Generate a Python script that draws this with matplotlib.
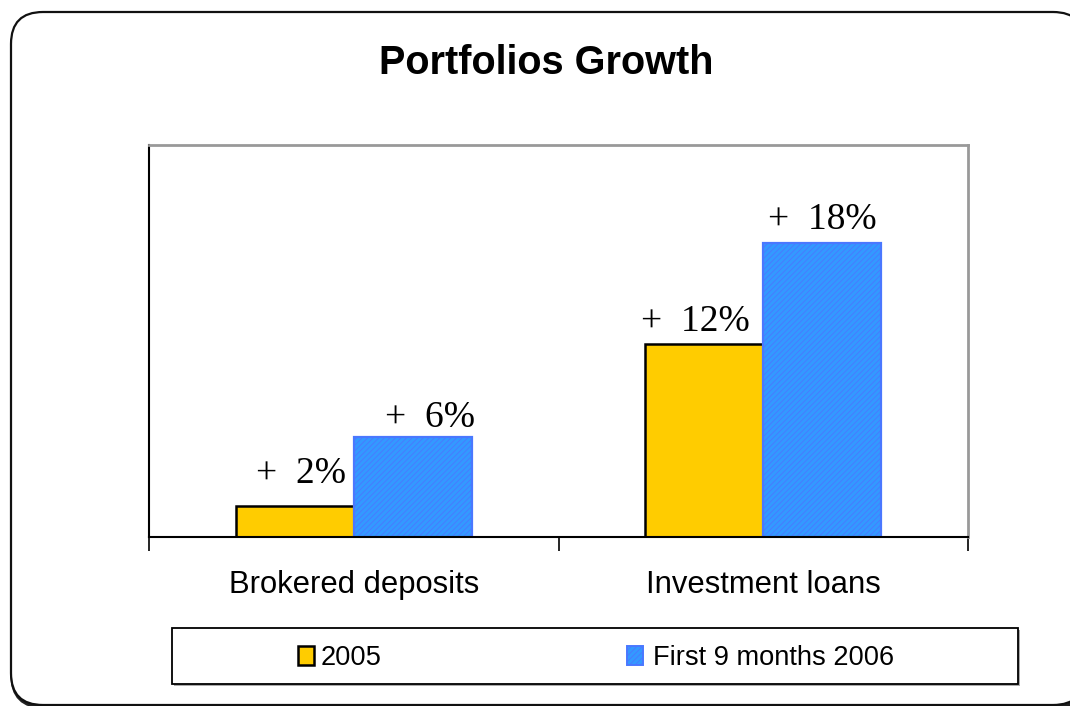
import matplotlib
matplotlib.use("Agg")
import matplotlib.pyplot as plt
from matplotlib.patches import FancyBboxPatch, Rectangle
from matplotlib.transforms import IdentityTransform, blended_transform_factory
import numpy as np

categories = ["Brokered deposits", "Investment loans"]
series_names = ["2005", "First 9 months 2006"]
values_2005 = [1.9, 11.8]
values_2006 = [6.1, 18.0]
labels_2005 = ["+  2%", "+  12%"]
labels_2006 = ["+  6%", "+  18%"]

W, H = 1070, 706
fig = plt.figure(figsize=(W / 100, H / 100), dpi=100)
fig.patch.set_facecolor("white")

SANS = ["Liberation Sans", "DejaVu Sans"]
SERIF = ["Liberation Serif", "DejaVu Serif"]
plt.rcParams["hatch.linewidth"] = 0.6

# rounded outer frame (pixel coordinates, origin bottom-left)
pix = IdentityTransform()
shadow = FancyBboxPatch((12, -1), 1074, 693, boxstyle="round,pad=0,rounding_size=32",
                        transform=pix, facecolor="none", edgecolor="#222222", linewidth=2.5,
                        zorder=-3)
fig.patches.append(shadow)
frame = FancyBboxPatch((11, 1), 1074, 693, boxstyle="round,pad=0,rounding_size=32",
                       transform=pix, facecolor="white", edgecolor="#111111", linewidth=1.6,
                       zorder=-2)
fig.patches.append(frame)

# plot area
L, R, T, B = 149, 968, 145, 537
ax = fig.add_axes([L / W, 1 - B / H, (R - L) / W, (B - T) / H])
ax.set_xlim(-0.5, 1.5)
ax.set_ylim(0, 24)

x = np.arange(len(categories))
bw = 0.2885
b1 = ax.bar(x - bw / 2, values_2005, bw, color="#ffcc00", edgecolor="black",
            linewidth=1.8, zorder=3, label=series_names[0])
plt.rcParams["hatch.color"] = "#2f6cff"
b2 = ax.bar(x + bw / 2, values_2006, bw, color="#3399ff", edgecolor="#4a78ff",
            linewidth=1.6, hatch="//////", zorder=3, label=series_names[1])

# value labels (baseline offsets in px)
offs_2005 = [23, 13]
offs_2006 = [10, 14]
dx_2005 = [6, -9]
dx_2006 = [17, 0]
for i in range(len(categories)):
    ax.annotate(labels_2005[i], (x[i] - bw / 2, values_2005[i]),
                xytext=(dx_2005[i] * 0.72, offs_2005[i] * 0.72), textcoords="offset points",
                ha="center", va="baseline", fontsize=27, family=SERIF)
    ax.annotate(labels_2006[i], (x[i] + bw / 2, values_2006[i]),
                xytext=(dx_2006[i] * 0.72, offs_2006[i] * 0.72), textcoords="offset points",
                ha="center", va="baseline", fontsize=27, family=SERIF)

# spines
for s in ["top", "right"]:
    ax.spines[s].set_color("#999999")
    ax.spines[s].set_linewidth(2)
ax.spines["left"].set_color("black")
ax.spines["left"].set_linewidth(1.5)
ax.spines["bottom"].set_color("black")
ax.spines["bottom"].set_linewidth(1.5)
ax.spines["bottom"].set_zorder(4)

ax.set_yticks([])
ax.set_xticks([-0.5, 0.5, 1.5])
ax.set_xticklabels([])
ax.tick_params(axis="x", direction="out", length=10, width=1.2, color="black")

tr = blended_transform_factory(ax.transData, ax.transAxes)
for i, c in enumerate(categories):
    ax.text(x[i], -(593 - 537) / (B - T), c, transform=tr, ha="center", va="baseline",
            fontsize=22.3, family=SANS)

# title
fig.text(546 / W, 1 - 74 / H, "Portfolios Growth", ha="center", va="baseline",
         fontsize=28.5, fontweight="bold", family=SANS)

# legend box
lx0, lx1, ly0, ly1 = 172, 1018, 628, 684
fig.patches.append(Rectangle((lx0 + 2, H - ly1 - 2), lx1 - lx0, ly1 - ly0, transform=pix,
                             facecolor="#aaaaaa", edgecolor="none", zorder=1))
fig.patches.append(Rectangle((lx0, H - ly1), lx1 - lx0, ly1 - ly0, transform=pix,
                             facecolor="white", edgecolor="black", linewidth=1.3, zorder=2))
handles = [b1.patches[0], b2.patches[0]]
sq_x = [298, 627]
tx_x = [321, 653]
for i, h in enumerate(handles):
    fig.patches.append(Rectangle((sq_x[i], H - 665), 16, 19, transform=pix,
                                 facecolor=h.get_facecolor(), edgecolor=h.get_edgecolor(),
                                 linewidth=1.8 if i == 0 else 1.4,
                                 hatch=h.get_hatch(), zorder=3))
    fig.text(tx_x[i] / W, 1 - 665 / H, series_names[i], ha="left", va="baseline",
             fontsize=19.6, family=SANS, zorder=3)

fig.savefig("out.png", dpi=100, facecolor="white")
